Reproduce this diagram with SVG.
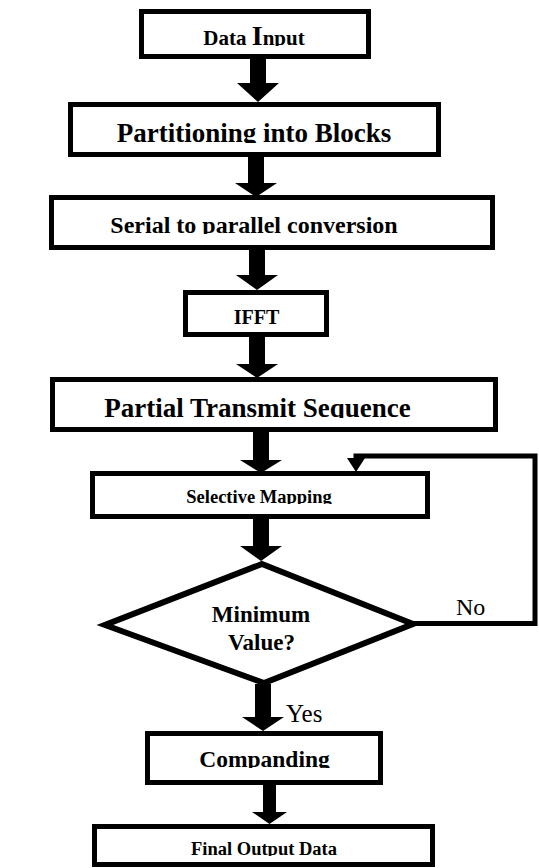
<svg xmlns="http://www.w3.org/2000/svg" width="539" height="868" viewBox="0 0 539 868">
<style>
.box{fill:#fff;stroke:#000;stroke-width:5}
.dia{fill:#fff;stroke:#000;stroke-width:6;stroke-linejoin:miter}
.t{font-family:"Liberation Serif","Times New Roman",serif;font-weight:bold;text-anchor:middle;fill:#000}
.lbl{font-family:"Liberation Serif","Times New Roman",serif;font-weight:normal;fill:#000}
.arr{fill:#000;stroke:none}
.line{fill:none;stroke:#000;stroke-width:5}
</style>
<defs>
<clipPath id="c1" clipPathUnits="userSpaceOnUse"><rect x="139" y="9" width="232" height="37"/></clipPath>
<clipPath id="c2" clipPathUnits="userSpaceOnUse"><rect x="68" y="102" width="373" height="41"/></clipPath>
<clipPath id="c3" clipPathUnits="userSpaceOnUse"><rect x="49" y="195" width="446" height="39"/></clipPath>
<clipPath id="c4" clipPathUnits="userSpaceOnUse"><rect x="183" y="308" width="146" height="17"/></clipPath>
<clipPath id="c5" clipPathUnits="userSpaceOnUse"><rect x="50" y="377" width="448" height="41"/></clipPath>
<clipPath id="c6" clipPathUnits="userSpaceOnUse"><rect x="90" y="471" width="340" height="33"/></clipPath>
<clipPath id="c8" clipPathUnits="userSpaceOnUse"><rect x="145" y="731" width="238" height="37"/></clipPath>
<clipPath id="c9" clipPathUnits="userSpaceOnUse"><rect x="92" y="824" width="343" height="32"/></clipPath>
</defs>
<rect width="539" height="868" fill="#fff"/>
<g id="connectors">
<polygon class="arr" points="250,57 266,57 266,83 279,83 258,102 237,83 250,83"/>
<polygon class="arr" points="248,155 264,155 264,183 277,183 256,197 235,183 248,183"/>
<polygon class="arr" points="249,248 265,248 265,275 278,275 257,290 236,275 249,275"/>
<polygon class="arr" points="249,335 265,335 265,364 278,364 257,378 236,364 249,364"/>
<polygon class="arr" points="253,430 269,430 269,460 282,460 261,473 240,460 253,460"/>
<polygon class="arr" points="253,517 269,517 269,546 282,546 261,561 240,546 253,546"/>
<polygon class="arr" points="255,684 271,684 271,717 284,717 263,731 242,717 255,717"/>
<polygon class="arr" points="263,783 276,783 276,812 287,812 269.5,824 252,812 263,812"/>
<polyline class="line" points="414,623.5 535,623.5 535,456 356,456 356,460"/>
<polygon class="arr" points="347,458 365,458 356,472"/>
<text class="lbl" x="456" y="615" font-size="24">No</text>
<text class="lbl" x="286" y="722" font-size="25">Yes</text>
</g>
<g id="n1">
<rect class="box" x="141.5" y="11.5" width="227" height="45"/>
<text class="t" x="254" y="45" font-size="21" clip-path="url(#c1)">Data <tspan font-size="28">I</tspan>nput</text>
</g>
<g id="n2">
<rect class="box" x="70.5" y="104.5" width="368" height="50"/>
<text class="t" x="254" y="142" font-size="27" clip-path="url(#c2)">Partitioning into Blocks</text>
</g>
<g id="n3">
<rect class="box" x="51.5" y="197.5" width="441" height="50"/>
<text class="t" x="254" y="233" font-size="24" clip-path="url(#c3)">Serial to parallel conversion</text>
</g>
<g id="n4">
<rect class="box" x="185.5" y="292.5" width="141" height="42"/>
<text class="t" x="256.5" y="324" font-size="20" clip-path="url(#c4)">IFFT</text>
</g>
<g id="n5">
<rect class="box" x="52.5" y="379.5" width="443" height="50"/>
<text class="t" x="257.5" y="417" font-size="27" clip-path="url(#c5)">Partial Transmit Sequence</text>
</g>
<g id="n6">
<rect class="box" x="92.5" y="473.5" width="335" height="43"/>
<text class="t" x="259" y="503" font-size="18.5" clip-path="url(#c6)">Selective Mapping</text>
</g>
<g id="n7">
<polygon class="dia" points="262,564 413,624 264,683 105,625"/>
<text class="t" x="261" y="622" font-size="23">Minimum</text>
<text class="t" x="261.5" y="650" font-size="23">Value?</text>
</g>
<g id="n8">
<rect class="box" x="147.5" y="733.5" width="233" height="49"/>
<text class="t" x="264.5" y="767" font-size="23.5" clip-path="url(#c8)">Companding</text>
</g>
<g id="n9">
<rect class="box" x="94.5" y="826.5" width="338" height="38"/>
<text class="t" x="264" y="855" font-size="18.5" clip-path="url(#c9)">Final Output Data</text>
</g>
</svg>
